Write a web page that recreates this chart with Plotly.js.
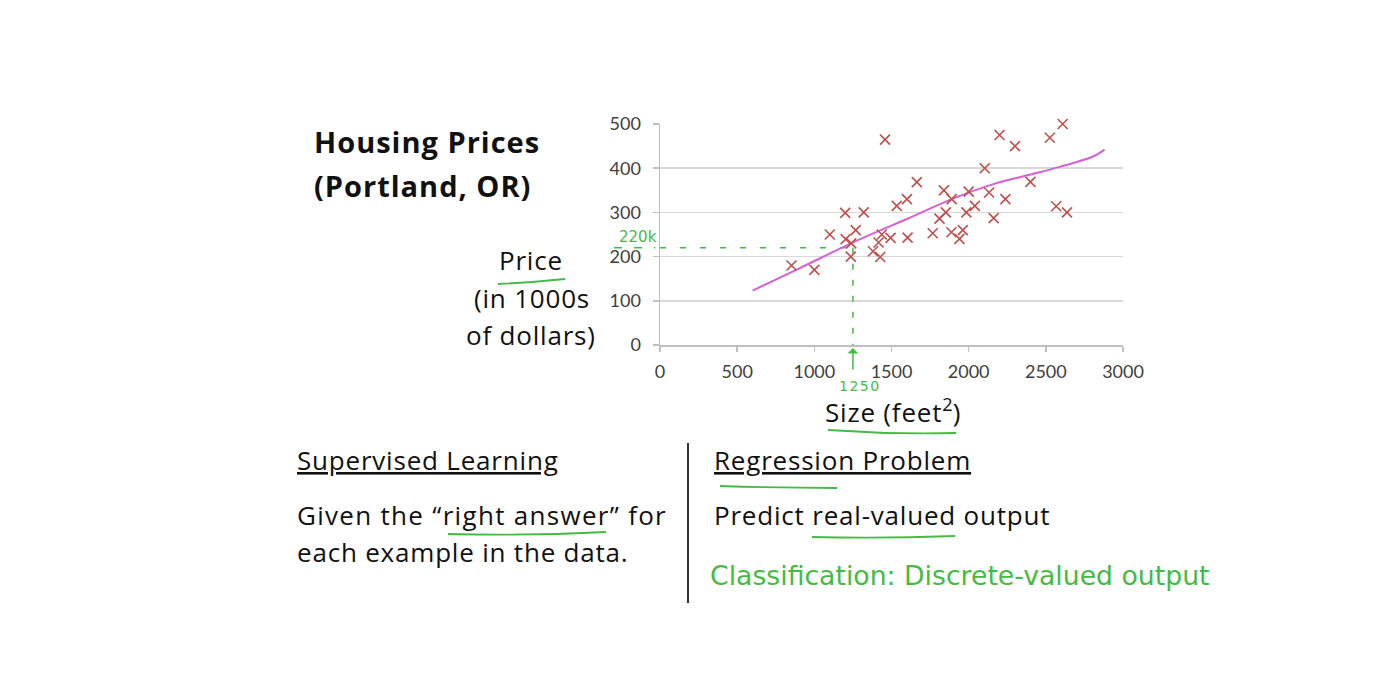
<!DOCTYPE html>
<html>
<head>
<meta charset="utf-8">
<script src="https://cdn.plot.ly/plotly-3.0.1.min.js"></script>
<style>html,body{margin:0;padding:0;background:#fff;}#chart{width:1400px;height:676px;}</style>
</head>
<body>
<div id="chart"></div>
<script>
// House sizes (feet^2) and prices (1000s of dollars)
const sizes = [2104,1600,2400,1416,1985,1534,1427,1380,1494,1940,2000,1890,1268,2300,1320,1236,2609,1767,1888,1604,1962,1100,1458,2526,2200,2637,1839,1000,2040,1811,1437,1239,2132,2162,1664,2238,2567,1200,852,1852,1203];
const prices = [399.9,329.9,369,232,299.9,314.9,199,212,242.5,240,347,330,259.9,449.9,299.9,199.9,500,252.9,255,243,259.9,249.9,464.5,469,475,299.9,349.9,169.9,314.9,285.9,249.9,229.9,345,287,368.5,329.9,314,299,179.9,299.9,239.5];

// Hand-drawn fitted curve
const fitX = [600,900,1300,1600,1890,2160,2380,2590,2810,2880];
const fitY = [123,173,240,285,330,364,384,403,427,442];

// Prediction example
const queryX = [1250];
const predictedY = [220];

const xTicks = [0,500,1000,1500,2000,2500,3000];
const yTicks = [0,100,200,300,400,500];

const W = 1400, H = 676;
const px = v => v / W;
const py = v => 1 - v / H;
const green = '#45bb45';
const textFont = '"Open Sans", Lato, sans-serif';
const tickFont = 'Lato, "Open Sans", sans-serif';
const handFont = '"DejaVu Sans", sans-serif';
const sp = (t, s) => `<span style="letter-spacing:${s}px">${t}</span>`;

const traces = [
  {
    x: [0, queryX[0]], y: [predictedY[0], predictedY[0]],
    mode: 'lines', line: {color: green, width: 1.5, dash: '6px,14px'},
    hoverinfo: 'skip', showlegend: false
  },
  {
    x: [queryX[0], queryX[0]], y: [predictedY[0], 0],
    mode: 'lines', line: {color: green, width: 1.5, dash: '6px,10px'},
    hoverinfo: 'skip', showlegend: false
  },
  {
    x: fitX, y: fitY, mode: 'lines',
    line: {color: '#d462d4', width: 2, shape: 'spline', smoothing: 1},
    showlegend: false
  },
  {
    x: sizes, y: prices, mode: 'markers', cliponaxis: false,
    marker: {symbol: 'x-thin', size: 10, line: {color: '#c0504d', width: 1.6}},
    showlegend: false
  }
];

function underline(x0, y0, x1, y1, bend) {
  const mx = (x0 + x1) / 2, my = (y0 + y1) / 2 + bend;
  return {
    type: 'path', xref: 'paper', yref: 'paper',
    path: `M ${px(x0)} ${py(y0)} Q ${px(mx)} ${py(my)} ${px(x1)} ${py(y1)}`,
    line: {color: green, width: 1.8}
  };
}

const bodyFont = {family: textFont, size: 26, color: '#111111'};
const LS = 0.8;

function note(text, x, y, anchor, font) {
  return {text: text, xref: 'paper', yref: 'paper', x: px(x), y: py(y),
          xanchor: anchor, yanchor: 'middle', showarrow: false, font: font};
}

const layout = {
  width: W, height: H,
  margin: {l: 0, r: 0, t: 0, b: 0},
  paper_bgcolor: '#ffffff', plot_bgcolor: '#ffffff',
  showlegend: false,
  xaxis: {
    domain: [px(660), px(1123)], range: [0, 3000],
    tickvals: xTicks, ticktext: xTicks.map(String),
    ticks: 'outside', ticklen: 5, tickcolor: '#bfbfbf', tickwidth: 1.5,
    showgrid: false, zeroline: false,
    showline: true, linecolor: '#bfbfbf', linewidth: 1.5,
    tickfont: {family: tickFont, size: 18, color: '#404040'},
    ticklabelstandoff: 5, fixedrange: true
  },
  yaxis: {
    domain: [py(345), py(124)], range: [0, 500],
    tickvals: yTicks, ticktext: yTicks.map(String),
    ticks: 'outside', ticklen: 6, tickcolor: '#bfbfbf', tickwidth: 1.5,
    showgrid: true, gridcolor: '#d9d9d9', gridwidth: 1.5, zeroline: false,
    showline: true, linecolor: '#bfbfbf', linewidth: 1.5,
    tickfont: {family: tickFont, size: 18, color: '#404040'},
    ticklabelstandoff: 8, fixedrange: true
  },
  shapes: [
    {type: 'line', xref: 'paper', yref: 'paper', x0: px(688), x1: px(688), y0: py(443), y1: py(603),
     line: {color: '#333333', width: 2}},
    {type: 'line', xref: 'paper', yref: 'y', x0: px(614), x1: px(655), y0: predictedY[0], y1: predictedY[0],
     line: {color: green, width: 1.5, dash: '8px,12px'}},
    underline(498, 284, 565, 279, 1),
    underline(828, 430, 956, 433, 3),
    underline(448, 534, 606, 532, 3),
    underline(720, 486, 837, 488, 1),
    underline(812, 537, 955, 536, 2)
  ],
  annotations: [
    note('<b>' + sp('Housing Prices', 1) + '</b>', 312, 142, 'left', {family: textFont, size: 29, color: '#111111'}),
    note('<b>' + sp('(Portland, OR)', 1) + '</b>', 312, 186, 'left', {family: textFont, size: 29, color: '#111111'}),
    note(sp('Price', LS), 531, 260, 'center', bodyFont),
    note(sp('(in 1000s', LS), 532, 298, 'center', bodyFont),
    note(sp('of dollars)', LS), 531, 335, 'center', bodyFont),
    note(sp('Size (feet', LS) + '<sup>2</sup>' + sp(')', LS), 893, 411, 'center', bodyFont),
    note('<u>' + sp('Supervised Learning', LS) + '</u>', 295, 460, 'left', bodyFont),
    note(sp('Given the \u201cright answer\u201d for', 1.3), 295, 515, 'left', bodyFont),
    note(sp('each example in the data.', LS), 295, 552, 'left', bodyFont),
    note('<u>' + sp('Regression Problem', LS) + '</u>', 712, 460, 'left', bodyFont),
    note(sp('Predict real-valued output', LS), 712, 515, 'left', bodyFont),
    note('Classification: Discrete-valued output', 708, 575, 'left', {family: handFont, size: 26.7, color: green}),
    {text: '220k', xref: 'paper', yref: 'paper', x: px(638), y: py(237),
     xanchor: 'center', yanchor: 'middle', showarrow: false,
     font: {family: handFont, size: 15, color: green}},
    {text: sp(String(queryX[0]), 1.5), xref: 'x', yref: 'paper', x: queryX[0] + 45, y: py(386),
     xanchor: 'center', yanchor: 'middle', showarrow: false,
     font: {family: handFont, size: 14, color: green}},
    {text: '', xref: 'x', yref: 'y', x: queryX[0], y: 0, ax: 0, ay: 26,
     showarrow: true, arrowhead: 1, arrowsize: 1.2, arrowwidth: 1.5, arrowcolor: green, standoff: 3}
  ]
};

Plotly.newPlot('chart', traces, layout, {displayModeBar: false, staticPlot: true});
</script>
</body>
</html>
